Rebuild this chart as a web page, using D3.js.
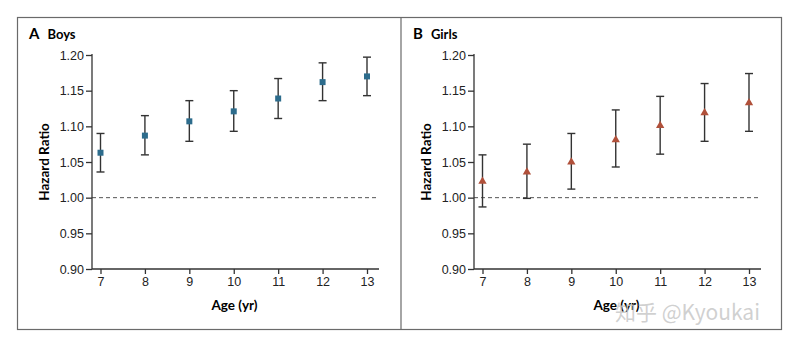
<!DOCTYPE html>
<html>
<head>
<meta charset="utf-8">
<script src="https://cdn.jsdelivr.net/npm/d3@7"></script>
<style>
  body { margin: 0; background: #fff; }
  svg { display: block; font-family: Lato, "Open Sans", sans-serif; }
  .tick text { font-size: 12.5px; fill: #222; }
  .domain, .tick line { stroke: #333; }
</style>
</head>
<body>
<svg id="chart" width="800" height="348"></svg>
<script>
// hazard ratios by age, with 95% confidence limits
const ages = [7, 8, 9, 10, 11, 12, 13];
const yTicks = [0.90, 0.95, 1.00, 1.05, 1.10, 1.15, 1.20];

const boysHR   = [1.063, 1.087, 1.107, 1.121, 1.139, 1.162, 1.170];
const boysLow  = [1.036, 1.060, 1.079, 1.093, 1.111, 1.136, 1.143];
const boysHigh = [1.090, 1.115, 1.136, 1.150, 1.167, 1.189, 1.197];

const girlsHR   = [1.023, 1.036, 1.050, 1.081, 1.101, 1.119, 1.133];
const girlsLow  = [0.987, 0.999, 1.012, 1.043, 1.061, 1.079, 1.093];
const girlsHigh = [1.060, 1.075, 1.090, 1.123, 1.142, 1.160, 1.174];

const svg = d3.select('#chart');

const panels = [
  { letter: 'A', name: 'Boys', hr: boysHR, lo: boysLow, hi: boysHigh,
    frame: 17, axisX: 92, endX: 379, marker: 'square', color: '#2d6c8c' },
  { letter: 'B', name: 'Girls', hr: girlsHR, lo: girlsLow, hi: girlsHigh,
    frame: 401, axisX: 474, endX: 761, marker: 'triangle', color: '#b0503a' }
];

// outer frames
svg.append('rect')
  .attr('x', 17.5).attr('y', 17.5)
  .attr('width', 764).attr('height', 312)
  .attr('fill', 'none').attr('stroke', '#6a6a6a').attr('stroke-width', 1.2);
svg.append('line')
  .attr('x1', 401).attr('x2', 401)
  .attr('y1', 17.5).attr('y2', 329.5)
  .attr('stroke', '#6a6a6a').attr('stroke-width', 1.2);

panels.forEach(function(p){
  const g = svg.append('g');
  const top = 55, bottom = 269;

  const x = d3.scaleLinear()
    .domain([7, 13])
    .range([p.axisX + 8.5, p.axisX + 275]);
  const y = d3.scaleLinear()
    .domain([0.90, 1.20])
    .range([bottom, top]);

  const rows = ages.map(function(a, i){
    return { age: a, hr: p.hr[i], lo: p.lo[i], hi: p.hi[i] };
  });

  // panel label
  const lab = g.append('text')
    .attr('x', p.frame + 12).attr('y', 39)
    .style('font-weight', 'bold');
  lab.append('tspan').style('font-size', '15px').text(p.letter);
  lab.append('tspan').attr('dx', 8).style('font-size', '13px').text(p.name);

  // reference line at HR = 1
  g.append('line')
    .attr('x1', p.axisX).attr('x2', p.endX)
    .attr('y1', y(1)).attr('y2', y(1))
    .attr('stroke', '#555').attr('stroke-width', 1)
    .attr('stroke-dasharray', '4,3');

  // axes
  g.append('g')
    .attr('transform', 'translate(' + p.axisX + ',0)')
    .call(d3.axisLeft(y).tickValues(yTicks).tickFormat(d3.format('.2f')).tickSize(6).tickPadding(2))
    .call(function(a){ a.select('.domain').attr('d', 'M0,' + bottom + 'V' + (top - 1)); });

  g.append('g')
    .attr('transform', 'translate(0,' + bottom + ')')
    .call(d3.axisBottom(x).tickValues(ages).tickFormat(d3.format('d')).tickSize(5).tickPadding(3))
    .call(function(a){ a.select('.domain').attr('d', 'M' + p.axisX + ',0H' + p.endX); });

  g.selectAll('.domain, .tick line').attr('stroke-width', 1.3);

  // axis titles
  g.append('text')
    .attr('transform', 'translate(' + (p.axisX - 43) + ',' + ((top + bottom) / 2) + ') rotate(-90)')
    .attr('text-anchor', 'middle')
    .style('font-size', '13.5px').style('font-weight', 'bold')
    .text('Hazard Ratio');

  g.append('text')
    .attr('x', (p.axisX + p.endX) / 2 - 1).attr('y', 310)
    .attr('text-anchor', 'middle')
    .style('font-size', '13.5px').style('font-weight', 'bold')
    .text('Age (yr)');

  // confidence intervals
  const ci = g.selectAll('.ci').data(rows).enter().append('g').attr('class', 'ci');
  ci.append('line')
    .attr('x1', d => x(d.age)).attr('x2', d => x(d.age))
    .attr('y1', d => y(d.lo)).attr('y2', d => y(d.hi));
  ci.append('line')
    .attr('x1', d => x(d.age) - 4).attr('x2', d => x(d.age) + 4)
    .attr('y1', d => y(d.hi)).attr('y2', d => y(d.hi));
  ci.append('line')
    .attr('x1', d => x(d.age) - 4).attr('x2', d => x(d.age) + 4)
    .attr('y1', d => y(d.lo)).attr('y2', d => y(d.lo));
  ci.selectAll('line').attr('stroke', '#333').attr('stroke-width', 1.4);

  // point estimates
  const shape = p.marker === 'square' ? d3.symbolSquare : d3.symbolTriangle;
  g.selectAll('.pt').data(rows).enter().append('path')
    .attr('class', 'pt')
    .attr('transform', d => 'translate(' + x(d.age) + ',' + y(d.hr) + ')')
    .attr('d', d3.symbol().type(shape).size(p.marker === 'square' ? 36 : 30))
    .attr('fill', p.color);
});

// site watermark
svg.append('text')
  .attr('x', 615).attr('y', 320)
  .style('font-family', '"Noto Sans CJK SC", sans-serif')
  .style('font-size', '21px')
  .attr('fill', '#c8c8c8').attr('fill-opacity', 0.85)
  .text('知乎 @Kyoukai');
</script>
</body>
</html>
